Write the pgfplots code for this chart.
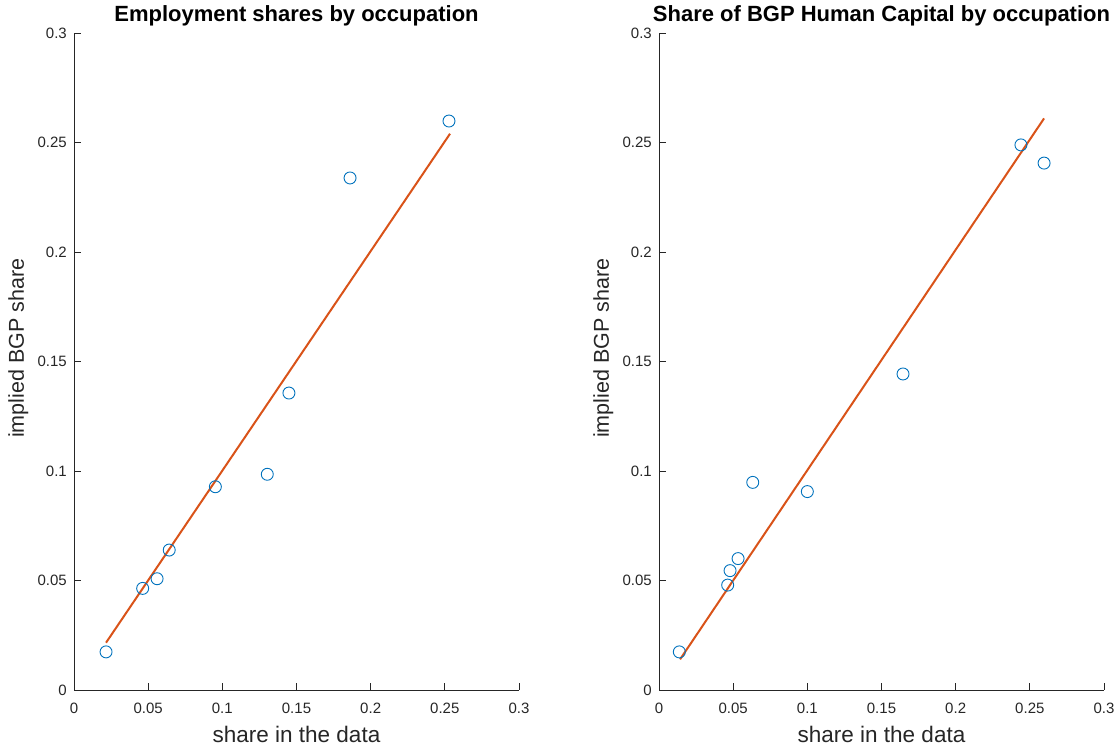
\documentclass[border=0pt]{standalone}
\usepackage{pgfplots}
\pgfplotsset{compat=1.18}
\usepackage{fontspec}
\setmainfont{Liberation Sans}
\definecolor{mblue}{RGB}{0,114,189}
\definecolor{morange}{RGB}{217,83,25}
\definecolor{axgray}{RGB}{38,38,38}

\pgfplotstableread{
x y
0.0216 0.0174
0.0463 0.0464
0.0560 0.0508
0.0642 0.0639
0.0953 0.0928
0.1303 0.0985
0.1449 0.1356
0.1861 0.2338
0.2528 0.2598
}\leftdata
\pgfplotstableread{
x y
0.0216 0.0216
0.2535 0.2540
}\leftline
\pgfplotstableread{
x y
0.0137 0.0174
0.0463 0.0479
0.0479 0.0545
0.0533 0.0600
0.0632 0.0948
0.1000 0.0906
0.1645 0.1443
0.2440 0.2489
0.2596 0.2406
}\rightdata
\pgfplotstableread{
x y
0.0142 0.0140
0.2596 0.2610
}\rightline

\pgfplotsset{
  myax/.style={
    scale only axis, width=445pt, height=657pt, anchor=south west,
    xmin=0, xmax=0.3, ymin=0, ymax=0.3,
    xtick={0,0.05,0.1,0.15,0.2,0.25,0.3},
    ytick={0,0.05,0.1,0.15,0.2,0.25,0.3},
    xticklabels={0,0.05,0.1,0.15,0.2,0.25,0.3},
    yticklabels={0,0.05,0.1,0.15,0.2,0.25,0.3},
    axis lines=left, axis line style={-, draw=axgray, line width=0.8pt},
    tick style={draw=axgray, line width=0.8pt},
    tick align=inside, major tick length=6.5pt,
    ticklabel style={font=\fontsize{15}{15}\selectfont, text=axgray, inner sep=0pt},
    xticklabel style={anchor=north, yshift=-13pt},
    yticklabel style={anchor=east, xshift=-7pt},
    title style={font=\bfseries\fontsize{22}{22}\selectfont, at={(0.5,1)}, anchor=base, yshift=5pt, inner sep=0pt},
    every axis x label/.style={at={(axis description cs:0.5,0)}, anchor=base, yshift=-53pt, font=\fontsize{22.5}{22.5}\selectfont, text=axgray, inner sep=0pt},
    every axis y label/.style={at={(axis description cs:-0.1124,0.52)}, rotate=90, anchor=base, font=\fontsize{21.5}{21.5}\selectfont, text=axgray, inner sep=0pt},
    xlabel={share in the data},
    ylabel={implied BGP share},
    clip=false,
  }
}

\begin{document}
\begin{tikzpicture}
\path[use as bounding box] (0,0) rectangle (1120pt,752pt);
\begin{axis}[myax, at={(74pt,62pt)}, title={Employment shares by occupation}]
\addplot[only marks, mark=o, mark size=6pt, mark options={draw=mblue, line width=0.9pt}] table {\leftdata};
\addplot[morange, line width=2pt] table {\leftline};
\end{axis}
\begin{axis}[myax, at={(659pt,62pt)}, title={Share of BGP Human Capital by occupation}]
\addplot[only marks, mark=o, mark size=6pt, mark options={draw=mblue, line width=0.9pt}] table {\rightdata};
\addplot[morange, line width=2pt] table {\rightline};
\end{axis}
\end{tikzpicture}
\end{document}
